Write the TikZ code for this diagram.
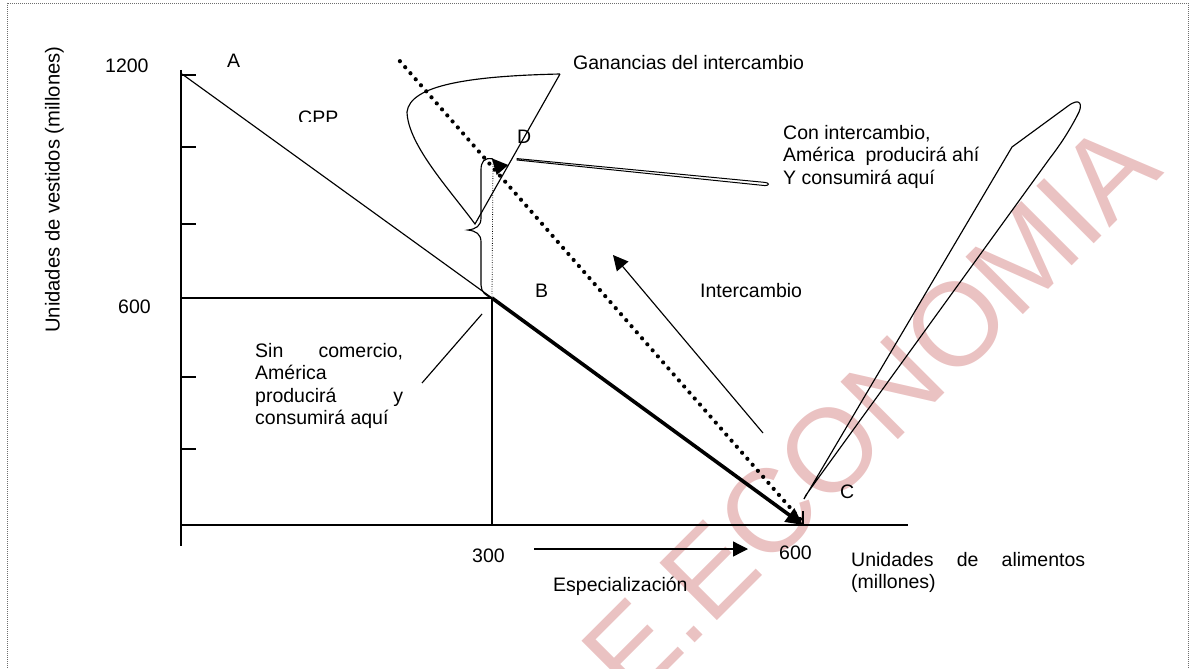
\documentclass[tikz,border=0pt]{standalone}
\usepackage{fontspec}
\setmainfont{Liberation Sans}
\usetikzlibrary{arrows.meta}
\definecolor{wm}{RGB}{234,194,194}
\definecolor{framegray}{RGB}{110,110,110}
\begin{document}
\begin{tikzpicture}[x=1pt,y=-1pt,
  txt/.style={inner sep=0pt, anchor=base west, font=\fontsize{19.5}{22.5}\selectfont},
  axisln/.style={line width=1.5pt},
  thinln/.style={line width=1.15pt},
  tickln/.style={line width=1.2pt},
  headtip/.style={-{Triangle[length=15pt,width=15pt]}},
  dotln/.style={line width=4.2pt, line cap=round, dash pattern=on 0pt off 8pt},
  fineline/.style={line width=0.8pt, dash pattern=on 0.8pt off 1.6pt}]
\useasboundingbox (0,0) rectangle (1191,669);
\clip (0,0) rectangle (1191,669);
% watermark
\node[inner sep=0pt, anchor=base west, rotate=45, text=wm,
      font=\fontsize{118}{118}\selectfont] (wmark) at (632,706) {E.ECONOMIA};
% frame
\draw[framegray, line width=0.8pt, dash pattern=on 1pt off 1pt] (7,3) rectangle (1188,700);
% coordinates
\coordinate (O) at (181,525);
\coordinate (Ytop) at (181,70);
\coordinate (Ybot) at (181,546);
\coordinate (Xend) at (908,525);
\coordinate (A) at (182,74);
\coordinate (B) at (492,298);
\coordinate (C) at (803,525);
\coordinate (Y600) at (181,298);
\coordinate (X300) at (492,525);
\coordinate (Dtop) at (398,59);
\coordinate (Cdot) at (800,519);
\coordinate (Dpt) at (493,159);
\coordinate (Ctick) at (803,511);
% axes
\draw[axisln] (Ytop) -- (Ybot);
\draw[axisln] (O) -- (Xend);
\foreach \yy in {75,147,224,377,449} \draw[tickln] (181,\yy) -- (196,\yy);
% lines
\draw[thinln] (A) -- (B);
\draw[thinln] (Y600) -- (B);
\draw[thinln] (B) -- (X300);
\draw[fineline] (Dpt) -- (B);
\draw[dotln] (Cdot) -- (Dtop);
\fill (491.7,158.3) -- (508.3,165) -- (496.7,175) -- cycle;
\draw[line width=3.6pt, -{Triangle[length=17pt,width=16pt]}] (B) -- (C);
\draw[thinln] (Ctick) -- (C);
% brace
\draw[thinln] (Dpt) .. controls (484,157) and (481,162) .. (481,170) -- (481,218)
  .. controls (481,226) and (476,229) .. (468,230)
  .. controls (476,231) and (481,234) .. (481,242) -- (481,285)
  .. controls (481,292) and (486,296) .. (B);
% callout: Ganancias
\coordinate (G1) at (560,74);
\coordinate (G2) at (475,224);
\draw[thinln] (G1) -- (G2) .. controls (450,190) and (408,145) .. (407,112)
  .. controls (410,85) and (470,76) .. (G1);
% callout: Con intercambio
\draw[line width=1pt] (517,158.6) -- (765,182.4) .. controls (769.5,182.8) and (769.5,185.6) .. (765,185.6) -- (517,160) -- cycle;
% callout: right tall
\draw[thinln] (804,499) -- (1012,147) -- (1068,106) .. controls (1080,97) and (1084,104) .. (1077,116)
  .. controls (1068,133) and (1060,145) .. (1050,158) -- (806,495) -- cycle;
% pointer: sin comercio
\coordinate (S1) at (482,314);
\coordinate (S2) at (422,383);
\draw[thinln] (S1) -- (S2);
% arrows
\coordinate (I1) at (763,433);
\coordinate (I2) at (613,255);
\draw[thinln, headtip] (I1) -- (I2);
\coordinate (E1) at (534,549);
\coordinate (E2) at (748,549);
\draw[line width=1.3pt, headtip] (E1) -- (E2);
% labels
\node[txt] (l1200) at (105,72) {1200};
\node[txt] (l600) at (118,313) {600};
\node[txt] (lA) at (227,67) {A};
\begin{scope}
\clip (280,100) rectangle (360,121.7);
\node[txt] (cpp) at (298,124) {CPP};
\end{scope}
\node[txt] (gan) at (573,69.5) {Ganancias del intercambio};
\node[txt] (lD) at (517,143) {D};
\node[txt] (lB) at (535,297) {B};
\node[txt] (lC) at (840,498) {C};
\node[txt] (inter) at (700,297) {Intercambio};
\node[txt] (con1) at (783,139) {Con intercambio,};
\node[txt] (con2) at (783,161.5) {América\ \ producirá ahí};
\node[txt] (con3) at (783,184) {Y consumirá aquí};
\node[txt] (sin1) at (255,357) {\hbox to 148pt{Sin\hfill comercio,}};
\node[txt] (sin2) at (255,379.5) {América};
\node[txt] (sin3) at (255,402) {\hbox to 148pt{producirá\hfill y}};
\node[txt] (sin4) at (255,424.5) {consumirá aquí};
\node[txt] (l300) at (472,562) {300};
\node[txt] (l600x) at (779,559.5) {600};
\node[txt] (ua1) at (851,566) {\hbox to 234pt{Unidades\hfill de\hfill alimentos}};
\node[txt] (ua2) at (851,588.5) {(millones)};
\node[txt] (esp) at (553,591) {Especialización};
\node[txt, rotate=90, font=\fontsize{20.2}{22.5}\selectfont] (ylab) at (59.5,333) {Unidades de vestidos (millones)};
\end{tikzpicture}
\end{document}
